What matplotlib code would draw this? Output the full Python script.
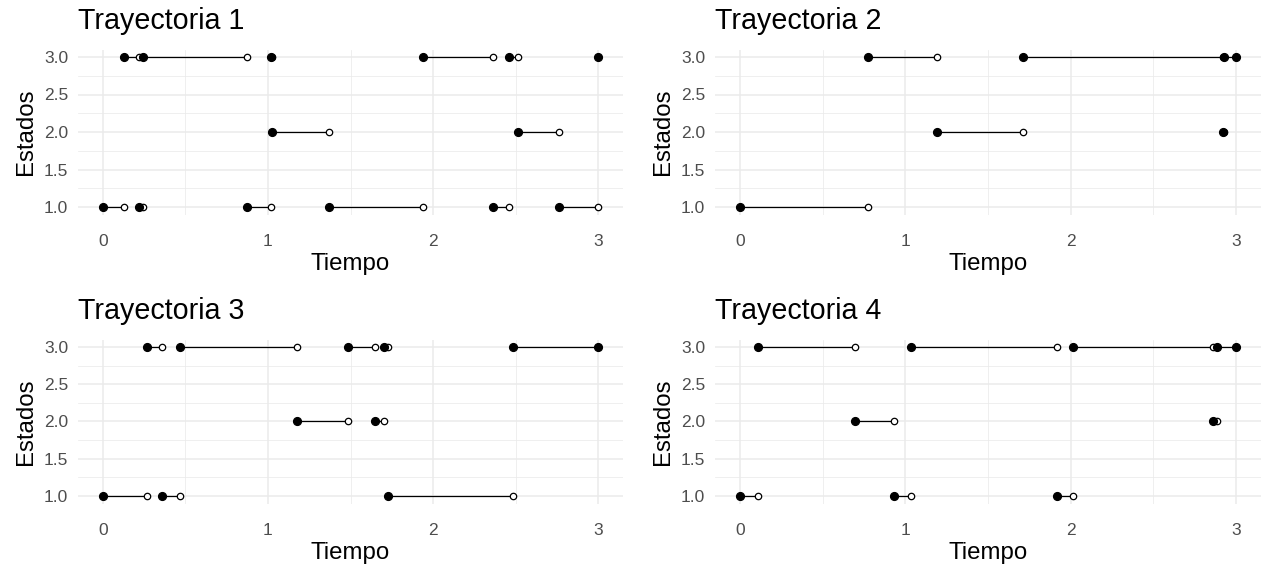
import numpy as np
import matplotlib
matplotlib.use("Agg")
import matplotlib.pyplot as plt

plt.rcParams["font.family"] = ["Liberation Sans", "DejaVu Sans"]

# jump times and states of each trajectory (last entry = state at t = 3)
tiempos_1 = [0.0, 0.129, 0.221, 0.245, 0.876, 1.019, 1.027, 1.371, 1.940, 2.365, 2.460, 2.513, 2.760, 3.0]
estados_1 = [1, 3, 1, 3, 1, 3, 2, 1, 3, 1, 3, 2, 1, 3]

tiempos_2 = [0.0, 0.776, 1.190, 1.714, 2.918, 2.925, 3.0]
estados_2 = [1, 3, 2, 3, 2, 3, 3]

tiempos_3 = [0.0, 0.266, 0.360, 0.467, 1.178, 1.486, 1.649, 1.700, 1.727, 2.486, 3.0]
estados_3 = [1, 3, 1, 3, 2, 3, 2, 3, 1, 3, 3]

tiempos_4 = [0.0, 0.108, 0.698, 0.929, 1.035, 1.918, 2.014, 2.860, 2.885, 3.0]
estados_4 = [1, 3, 2, 1, 3, 1, 3, 2, 3, 3]

trayectorias = [(tiempos_1, estados_1), (tiempos_2, estados_2),
                (tiempos_3, estados_3), (tiempos_4, estados_4)]

W, H = 1262, 572
fig = plt.figure(figsize=(W / 100, H / 100), dpi=100)

# panel boxes in pixels: left, right, top, bottom
boxes = [(78, 623, 49.5, 214.5), (715, 1261, 49.5, 214.5),
         (78, 623, 339.5, 503.5), (715, 1261, 339.5, 503.5)]

grid_col = "#EBEBEB"
tick_col = "#4D4D4D"

for k, ((t, s), (l, r, top, bot)) in enumerate(zip(trayectorias, boxes)):
    ax = fig.add_axes([l / W, 1 - bot / H, (r - l) / W, (bot - top) / H])
    t = np.array(t)
    s = np.array(s)

    for xv in [0.5, 1.5, 2.5]:
        ax.axvline(xv, color=grid_col, lw=0.55, zorder=0)
    for yv in [1.25, 1.75, 2.25, 2.75]:
        ax.axhline(yv, color=grid_col, lw=0.55, zorder=0)
    for xv in [0, 1, 2, 3]:
        ax.axvline(xv, color=grid_col, lw=1.1, zorder=0)
    for yv in [1.0, 1.5, 2.0, 2.5, 3.0]:
        ax.axhline(yv, color=grid_col, lw=1.1, zorder=0)

    ax.hlines(s[:-1], t[:-1], t[1:], color="black", lw=0.9, zorder=2)
    ax.plot(t[1:], s[:-1], "o", ms=4.6, mfc="white", mec="black", mew=0.9,
            ls="none", zorder=3)
    ax.plot(t, s, "o", ms=5.6, color="black", ls="none", zorder=4)

    ax.set_xlim(-0.15, 3.15)
    ax.set_ylim(0.9, 3.1)
    ax.set_xticks([0, 1, 2, 3])
    ax.set_xticklabels(["0", "1", "2", "3"])
    ax.set_yticks([1.0, 1.5, 2.0, 2.5, 3.0])
    ax.set_yticklabels(["1.0", "1.5", "2.0", "2.5", "3.0"])
    ax.tick_params(length=0, labelsize=12.5, labelcolor=tick_col)
    ax.tick_params(axis="x", pad=14)
    ax.tick_params(axis="y", pad=7)
    for sp in ax.spines.values():
        sp.set_visible(False)
    ax.set_xlabel("Tiempo", fontsize=17.3, labelpad=3)
    ax.set_ylabel("Estados", fontsize=17.3, labelpad=5)
    ax.set_title(f"Trayectoria {k + 1}", loc="left", fontsize=20.6, pad=15)

fig.savefig("out.png", dpi=100, facecolor="white")
